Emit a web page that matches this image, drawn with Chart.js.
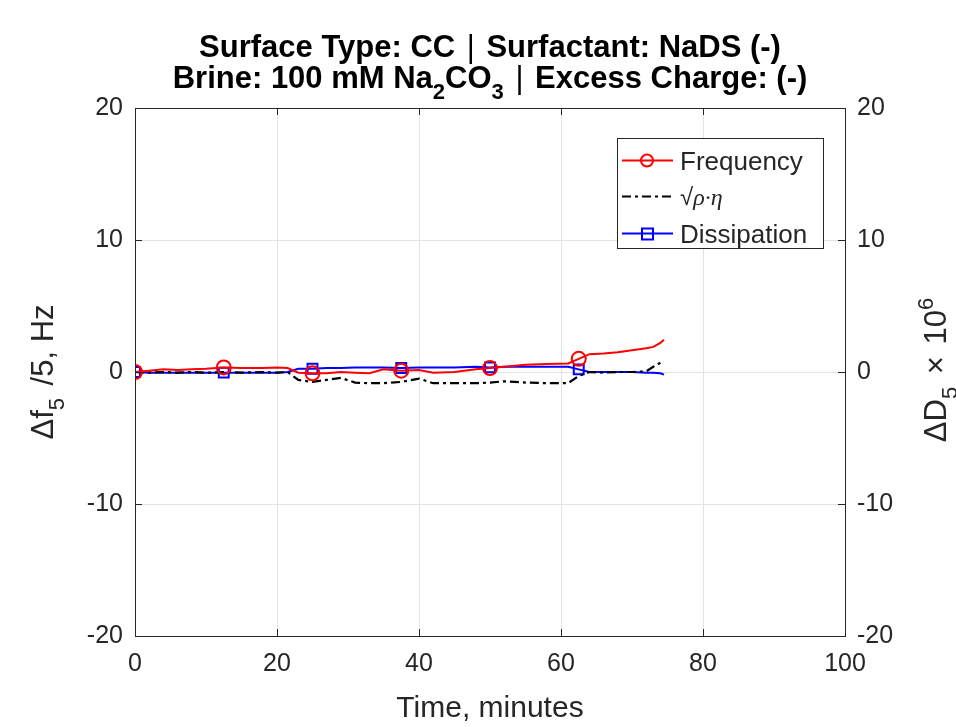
<!DOCTYPE html>
<html lang="en">
<head>
  <meta charset="UTF-8">
  <title>QCM-D: CC / NaDS / Na2CO3</title>
  <script src="https://cdn.jsdelivr.net/npm/chart.js"></script>
  <style>
    body { margin: 0; background: #ffffff; }
    #wrap { width: 956px; height: 727px; }
  </style>
</head>
<body>
  <div id="wrap"><canvas id="qcmChart" width="956" height="727"></canvas></div>

  <script>
    // time axis (minutes), shared by the three series
    const time = [0, 2, 4, 6, 8, 10, 12.5, 15, 18, 20, 21.5, 23, 25, 27, 29, 31, 33, 35, 37.5,
                  40, 42, 45, 48, 50, 52, 55, 58, 61, 62.5, 64, 66, 68, 70, 72, 73, 74, 74.5];
    // delta f5 / 5 (Hz)
    const frequency = [0, 0.1, 0.2, 0.15, 0.2, 0.25, 0.35, 0.3, 0.3, 0.35, 0.3, -0.05, -0.1, -0.1, 0.0, -0.05, -0.1, 0.2, 0.1,
                       0.15, -0.05, 0.0, 0.2, 0.3, 0.4, 0.55, 0.6, 0.65, 1.0, 1.35, 1.4, 1.5, 1.65, 1.8, 1.9, 2.2, 2.45];
    // sqrt(rho*eta)
    const rhoEta = [0, -0.05, 0, -0.05, 0, -0.05, 0, -0.05, 0, -0.05, 0, -0.6, -0.75, -0.6, -0.45, -0.8, -0.85, -0.85, -0.75,
                    -0.5, -0.85, -0.85, -0.85, -0.8, -0.7, -0.8, -0.85, -0.85, -0.3, 0.0, -0.05, 0, 0, 0.05, 0.4, 0.7, null];
    // delta D5 x 10^6
    const dissipation = [0, -0.05, -0.05, -0.05, -0.05, -0.05, -0.05, -0.05, -0.05, -0.05, 0.0, 0.25, 0.25, 0.3, 0.3, 0.35, 0.35, 0.35, 0.3,
                         0.35, 0.35, 0.35, 0.4, 0.35, 0.4, 0.4, 0.4, 0.4, 0.2, 0.0, 0.0, 0.0, 0.0, -0.05, -0.05, -0.1, -0.2];
    // times where the markers sit
    const markerTimes = [0, 12.5, 25, 37.5, 50, 62.5];

    const xTicks = [0, 20, 40, 60, 80, 100];
    const yTicks = [-20, -10, 0, 10, 20];

    const FONT = "'Liberation Sans', Arial, sans-serif";
    const TXT = '#262626';

    function points(vals) {
      return time.map((t, i) => ({ x: t, y: vals[i] }));
    }
    function markerRadius(r) {
      return ctx => markerTimes.includes(time[ctx.dataIndex]) ? r : 0;
    }

    // draws text with sub / sup / thin / italic segments
    function richText(c, segs, x, y, size, bold, align) {
      const fontOf = s => {
        if (s.italic) return 'italic ' + size + "px 'Liberation Serif', serif";
        const px = s.sub || s.sup ? Math.round(size * 0.72) : size;
        return (bold && !s.thin ? 'bold ' : '') + px + 'px ' + FONT;
      };
      let w = 0;
      segs.forEach(s => { c.font = fontOf(s); w += c.measureText(s.t).width + (s.gap || 0); });
      let cx = align === 'center' ? x - w / 2 : x;
      c.textBaseline = 'alphabetic';
      c.textAlign = 'left';
      segs.forEach(s => {
        c.font = fontOf(s);
        const dy = s.sub ? size * 0.36 : (s.sup ? -size * 0.42 : 0);
        c.fillText(s.t, cx, y + dy);
        cx += c.measureText(s.t).width + (s.gap || 0);
      });
    }

    const decorPlugin = {
      id: 'decor',
      afterDraw(chart) {
        const c = chart.ctx;
        const a = chart.chartArea;
        c.save();
        // box
        c.strokeStyle = '#262626';
        c.lineWidth = 1;
        c.strokeRect(a.left + 0.5, a.top + 0.5, a.right - a.left, a.bottom - a.top);
        // inward ticks
        const xs = chart.scales.x, yl = chart.scales.y;
        c.beginPath();
        xTicks.forEach(v => {
          const px = Math.round(xs.getPixelForValue(v)) + 0.5;
          c.moveTo(px, a.bottom); c.lineTo(px, a.bottom - 7);
          c.moveTo(px, a.top); c.lineTo(px, a.top + 7);
        });
        yTicks.forEach(v => {
          const py = Math.round(yl.getPixelForValue(v)) + 0.5;
          c.moveTo(a.left, py); c.lineTo(a.left + 7, py);
          c.moveTo(a.right, py); c.lineTo(a.right - 7, py);
        });
        c.stroke();

        // title
        c.fillStyle = '#000';
        const mid = (a.left + a.right) / 2;
        richText(c, [{ t: 'Surface Type: CC ', gap: 3 }, { t: '|', thin: true, gap: 3 }, { t: ' Surfactant: NaDS (-)' }], mid, 57, 31, true, 'center');
        richText(c, [{ t: 'Brine: 100 mM Na' }, { t: '2', sub: true }, { t: 'CO' }, { t: '3', sub: true },
                     { t: ' ', gap: 3 }, { t: '|', thin: true, gap: 3 }, { t: ' Excess Charge: (-)' }], mid, 88, 31, true, 'center');

        // y titles
        c.fillStyle = TXT;
        c.save();
        c.translate(53, 372);
        c.rotate(-Math.PI / 2);
        richText(c, [{ t: '\u0394f' }, { t: '5', sub: true, gap: 4 }, { t: ' /5, Hz' }], 0, 0, 31, false, 'center');
        c.restore();
        c.save();
        c.translate(946, 370);
        c.rotate(-Math.PI / 2);
        richText(c, [{ t: '\u0394D' }, { t: '5', sub: true, gap: 4 }, { t: ' \u00d7 ', gap: 3 }, { t: '10' }, { t: '6', sup: true }], 0, 0, 31, false, 'center');
        c.restore();

        // legend
        const lx = 617, ly = 138, lw = 206, lh = 110;
        c.fillStyle = '#fff';
        c.fillRect(lx, ly, lw, lh);
        c.strokeStyle = '#262626';
        c.lineWidth = 1;
        c.strokeRect(lx + 0.5, ly + 0.5, lw, lh);
        const rows = [160, 196, 233];
        chart.data.datasets.forEach((ds, i) => {
          const ry = rows[i] + 0.5;
          c.strokeStyle = ds.borderColor;
          c.lineWidth = 2;
          c.setLineDash(ds.borderDash || []);
          c.beginPath(); c.moveTo(622, ry); c.lineTo(673, ry); c.stroke();
          c.setLineDash([]);
          if (ds.pointStyle === 'circle') {
            c.beginPath(); c.arc(647, ry, 6, 0, Math.PI * 2); c.stroke();
          } else if (ds.pointStyle === 'rect') {
            c.strokeRect(642, ry - 5, 11, 11);
          }
          c.fillStyle = TXT;
          if (i === 1) {
            richText(c, [{ t: '\u221a' }, { t: '\u03c1\u00b7\u03b7', italic: true }], 680, ry + 8, 24, false, 'left');
          } else {
            richText(c, [{ t: ds.label }], 680, ry + 9, 26, false, 'left');
          }
        });
        c.restore();
      }
    };

    const ctx = document.getElementById('qcmChart').getContext('2d');
    new Chart(ctx, {
      type: 'scatter',
      data: {
        datasets: [
          {
            label: 'Frequency',
            data: points(frequency),
            showLine: true,
            borderColor: '#ff0000',
            backgroundColor: 'rgba(0,0,0,0)',
            borderWidth: 2,
            pointStyle: 'circle',
            pointRadius: markerRadius(7),
            pointBorderWidth: 2,
            yAxisID: 'y'
          },
          {
            label: 'rho eta',
            data: points(rhoEta),
            showLine: true,
            borderColor: '#000000',
            borderWidth: 2.2,
            borderDash: [9, 4, 3, 4],
            pointRadius: 0,
            yAxisID: 'y'
          },
          {
            label: 'Dissipation',
            data: points(dissipation),
            showLine: true,
            borderColor: '#0000ff',
            backgroundColor: 'rgba(0,0,0,0)',
            borderWidth: 2,
            pointStyle: 'rect',
            pointRadius: markerRadius(7),
            pointBorderWidth: 2,
            yAxisID: 'y2'
          }
        ]
      },
      options: {
        responsive: false,
        animation: false,
        layout: { padding: { top: 108, left: 0, right: 0, bottom: 0 } },
        plugins: { legend: { display: false }, tooltip: { enabled: false } },
        scales: {
          x: {
            type: 'linear', min: 0, max: 100,
            afterBuildTicks: s => { s.ticks = xTicks.map(v => ({ value: v })); },
            afterFit: s => { s.height = 91; },
            grid: { color: '#e3e3e3', tickLength: 0 },
            border: { display: false },
            ticks: { font: { family: FONT, size: 25 }, color: TXT, padding: 13, maxRotation: 0 },
            title: { display: true, text: 'Time, minutes', font: { family: FONT, size: 30 }, color: TXT, padding: { top: 0, bottom: 0 } }
          },
          y: {
            position: 'left', min: -20, max: 20,
            afterBuildTicks: s => { s.ticks = yTicks.map(v => ({ value: v })); },
            afterFit: s => { s.width = 135; },
            grid: { color: '#e3e3e3', tickLength: 0 },
            border: { display: false },
            ticks: { font: { family: FONT, size: 25 }, color: TXT, padding: 12 }
          },
          y2: {
            position: 'right', min: -20, max: 20,
            afterBuildTicks: s => { s.ticks = yTicks.map(v => ({ value: v })); },
            afterFit: s => { s.width = 111; },
            grid: { display: false, tickLength: 0 },
            border: { display: false },
            ticks: { font: { family: FONT, size: 25 }, color: TXT, padding: 12 }
          }
        }
      },
      plugins: [decorPlugin]
    });
  </script>
</body>
</html>
